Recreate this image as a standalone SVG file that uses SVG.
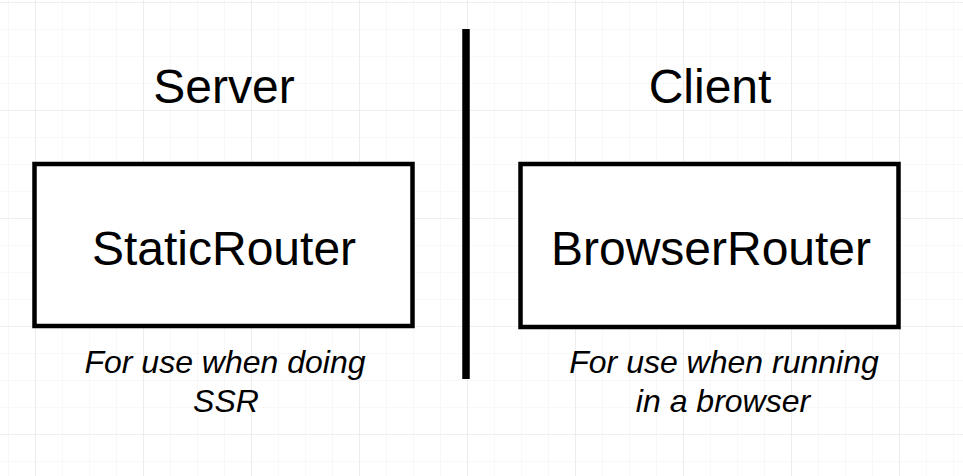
<svg xmlns="http://www.w3.org/2000/svg" width="963" height="476" viewBox="0 0 963 476">
  <defs>
    <pattern id="minor" x="8" y="2" width="27" height="27" patternUnits="userSpaceOnUse">
      <path d="M0 0 H27 M0 0 V27" fill="none" stroke="#f2f2f2" stroke-width="1"/>
    </pattern>
    <pattern id="major" x="35" y="2" width="108" height="108" patternUnits="userSpaceOnUse">
      <path d="M0 0 H108 M0 0 V108" fill="none" stroke="#e6e6e6" stroke-width="1.2"/>
    </pattern>
  </defs>
  <style>
    .box { fill: #ffffff; stroke: #000000; stroke-width: 4.5; }
    .title { font-family: "Liberation Sans", Arial, sans-serif; font-size: 48px; fill: #000000; text-anchor: middle; }
    .note { font-family: "Liberation Sans", Arial, sans-serif; font-size: 32px; font-style: italic; fill: #000000; text-anchor: middle; }
  </style>
  <rect width="963" height="476" fill="#ffffff"/>
  <rect width="963" height="476" fill="url(#minor)"/>
  <rect width="963" height="476" fill="url(#major)"/>

  <g id="connectors">
    <line x1="466" y1="29" x2="466" y2="379" stroke="#000000" stroke-width="7.5"/>
  </g>

  <g id="server-label">
    <text class="title" x="224" y="103">Server</text>
  </g>
  <g id="client-label">
    <text class="title" x="710" y="103">Client</text>
  </g>

  <g id="static-router">
    <rect class="box" x="34.5" y="164" width="378" height="162"/>
    <text class="title" x="224" y="265">StaticRouter</text>
  </g>
  <g id="browser-router">
    <rect class="box" x="520.5" y="164" width="378" height="163"/>
    <text class="title" x="711" y="265">BrowserRouter</text>
  </g>

  <g id="server-note">
    <text class="note" x="225" y="373">For use when doing</text>
    <text class="note" x="226" y="412">SSR</text>
  </g>
  <g id="client-note">
    <text class="note" x="724" y="373">For use when running</text>
    <text class="note" x="723" y="412">in a browser</text>
  </g>
</svg>
